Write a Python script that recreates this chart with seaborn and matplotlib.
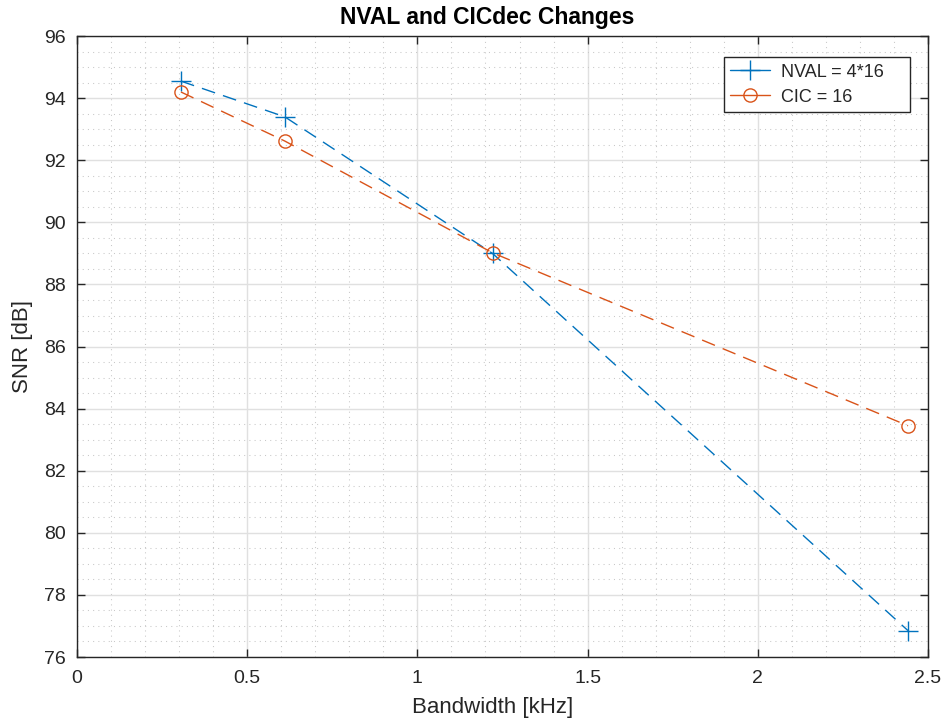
import matplotlib
matplotlib.use("Agg")
import matplotlib.pyplot as plt
from matplotlib.lines import Line2D
from matplotlib.ticker import MultipleLocator
import pandas as pd
import seaborn as sns

# Bandwidth in kHz for each configuration
bandwidth_khz = [0.3052, 0.6104, 1.2207, 2.4414]
# SNR results in dB
snr_nval = [94.55, 93.40, 89.00, 76.85]
snr_cic = [94.20, 92.62, 89.02, 83.45]

series_labels = ["NVAL = 4*16", "CIC = 16"]
x_ticks = [0, 0.5, 1, 1.5, 2, 2.5]
x_tick_labels = ["0", "0.5", "1", "1.5", "2", "2.5"]
y_ticks = [76, 78, 80, 82, 84, 86, 88, 90, 92, 94, 96]
y_tick_labels = [str(v) for v in y_ticks]

blue = "#0072BD"
orange = "#D95319"
ink = "#262626"

sns.set_theme(style="white")
plt.rcParams["font.family"] = ["Liberation Sans", "DejaVu Sans"]

df_nval = pd.DataFrame({"bw": bandwidth_khz, "snr": snr_nval})
df_cic = pd.DataFrame({"bw": bandwidth_khz, "snr": snr_cic})

fig = plt.figure(figsize=(9.44, 7.22), dpi=100)
ax = fig.add_axes([0.0816, 0.090, 0.9014, 0.860])

dash = (0, (10, 6))
sns.lineplot(data=df_nval, x="bw", y="snr", ax=ax, color=blue, lw=1.0,
             marker="+", markersize=14, markeredgewidth=1.0,
             markeredgecolor=blue, dashes=False, linestyle=dash, sort=False)
sns.lineplot(data=df_cic, x="bw", y="snr", ax=ax, color=orange, lw=1.0,
             marker="o", markersize=9.5, markerfacecolor="none",
             markeredgecolor=orange, markeredgewidth=1.0,
             dashes=False, linestyle=dash, sort=False)

ax.set_xlim(0, 2.5)
ax.set_ylim(76, 96)
ax.set_xticks(x_ticks)
ax.set_xticklabels(x_tick_labels)
ax.set_yticks(y_ticks)
ax.set_yticklabels(y_tick_labels)
ax.xaxis.set_minor_locator(MultipleLocator(0.1))
ax.yaxis.set_minor_locator(MultipleLocator(0.5))

ax.grid(True, which="major", color="#E0E0E0", linewidth=1.0, linestyle="-")
ax.grid(True, which="minor", color="#C8C8C8", linewidth=0.75, linestyle=(0, (1, 4)))
ax.set_axisbelow(True)

for s in ax.spines.values():
    s.set_visible(True)
    s.set_color(ink)
    s.set_linewidth(1.0)

ax.tick_params(which="major", direction="in", length=6, width=1.0,
               colors=ink, labelcolor=ink, labelsize=14,
               top=True, right=True, bottom=True, left=True)
ax.tick_params(axis="x", which="major", pad=9)
ax.tick_params(axis="y", which="major", pad=8)
ax.tick_params(which="minor", length=0)

ax.set_xlabel("Bandwidth [kHz]", fontsize=16, color=ink)
ax.set_ylabel("SNR [dB]", fontsize=16, color=ink)
ax.xaxis.set_label_coords(0.488, -0.064)
ax.yaxis.set_label_coords(-0.052, 0.5)
ax.set_title("NVAL and CICdec Changes", fontsize=16.5, fontweight="bold",
             color="black", x=0.482, pad=9)

handles = [
    Line2D([], [], color=blue, lw=1.0, marker="+", markersize=14,
           markeredgewidth=1.0),
    Line2D([], [], color=orange, lw=1.0, marker="o", markersize=9.5,
           markerfacecolor="none", markeredgecolor=orange),
]
leg = ax.legend(handles, series_labels, loc="upper left",
                bbox_to_anchor=(0.760, 0.866, 0.2186, 0.100), mode="expand",
                fontsize=13, frameon=True, fancybox=False, edgecolor=ink,
                framealpha=1, handlelength=2.2, borderpad=0.35,
                labelspacing=0.45, handletextpad=0.6, borderaxespad=0)
leg.get_frame().set_linewidth(1.0)

fig.savefig("out.png", dpi=100)
